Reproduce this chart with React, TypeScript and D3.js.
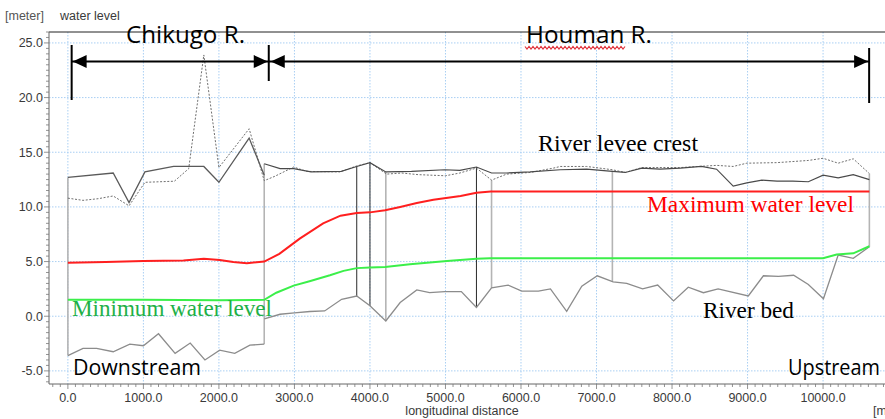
import React from 'react';
import * as d3 from 'd3';

const W = 885;
const H = 419;

// Longitudinal distance [m], elevation [m]
const leveeSolidChikugo: [number, number][] = [
  [0, 12.7], [600, 13.1], [810, 10.4], [1020, 13.2], [1400, 13.7], [1800, 13.7],
  [2000, 12.25], [2400, 16.3], [2600, 12.9],
];
const leveeSolidHouman: [number, number][] = [
  [2600, 13.95], [2810, 13.5], [2990, 13.5], [3220, 13.2], [3620, 13.25], [3825, 13.7],
  [4000, 14.05], [4210, 13.2], [4550, 13.25], [4990, 13.4], [5190, 13.35], [5410, 13.65],
  [5610, 13.1], [5810, 13.1], [6120, 13.2], [6520, 13.4], [6870, 13.45], [7210, 13.25],
  [7380, 13.15], [7600, 13.55], [7840, 13.45], [8110, 13.55], [8390, 13.7], [8590, 13.45],
  [8810, 11.9], [8990, 12.2], [9190, 12.45], [9390, 12.35], [9600, 12.35], [9805, 12.3],
  [10000, 12.9], [10200, 12.65], [10400, 12.95], [10613, 12.5],
];
const leveeDotted: [number, number][] = [
  [0, 10.8], [200, 10.6], [400, 10.75], [600, 11.0], [810, 10.1], [1020, 12.25],
  [1410, 12.35], [1600, 13.5], [1800, 23.9], [2000, 13.6], [2400, 17.15], [2600, 12.4],
  [2740, 12.8], [2990, 13.65], [3160, 13.25], [3600, 13.2], [3825, 13.75], [4000, 14.05],
  [4220, 13.0], [4420, 13.1], [4640, 12.95], [5000, 12.85], [5190, 13.1], [5410, 13.55],
  [5610, 12.45], [5810, 13.0], [6120, 13.15], [6430, 13.55], [6520, 13.7], [6870, 13.7],
  [7210, 13.4], [7380, 13.15], [7600, 13.6], [8110, 13.6], [8590, 13.8], [8810, 13.7],
  [8990, 14.0], [9390, 14.05], [9805, 14.25], [10000, 14.45], [10200, 14.0], [10400, 14.4],
  [10613, 13.05],
];
const maxWaterLevel: [number, number][] = [
  [0, 4.9], [500, 4.95], [1000, 5.05], [1530, 5.1], [1800, 5.25], [2010, 5.15],
  [2190, 4.95], [2370, 4.85], [2600, 5.0], [2800, 5.7], [3070, 7.1], [3380, 8.5],
  [3610, 9.2], [3825, 9.45], [4000, 9.5], [4200, 9.7], [4400, 10.0], [4620, 10.35],
  [4840, 10.65], [5200, 11.0], [5410, 11.3], [5600, 11.42], [10613, 11.42],
];
const minWaterLevel: [number, number][] = [
  [0, 1.5], [1000, 1.5], [2000, 1.45], [2600, 1.5], [2760, 2.15], [2990, 2.8],
  [3200, 3.2], [3470, 3.75], [3650, 4.15], [3825, 4.4], [4000, 4.45], [4200, 4.5],
  [4530, 4.75], [5020, 5.05], [5410, 5.25], [5590, 5.3], [10000, 5.3], [10180, 5.65],
  [10400, 5.75], [10613, 6.4],
];
const bedChikugo: [number, number][] = [
  [0, -3.6], [200, -2.95], [380, -2.95], [600, -3.25], [820, -2.55], [1000, -2.7],
  [1200, -1.6], [1420, -3.4], [1620, -2.45], [1815, -4.0], [2010, -3.1], [2210, -3.4],
  [2410, -2.65], [2600, -2.55],
];
const bedHouman: [number, number][] = [
  [2600, -0.25], [2810, 0.18], [3000, 0.3], [3205, 0.43], [3400, 0.48], [3625, 1.55],
  [3825, 1.85], [4000, 0.95], [4210, -0.43], [4400, 1.25], [4620, 2.4], [4790, 2.15],
  [4990, 2.25], [5210, 2.25], [5410, 0.8], [5610, 2.6], [5830, 2.85], [6010, 2.3],
  [6230, 2.3], [6390, 2.5], [6605, 0.45], [6805, 2.75], [7010, 3.7], [7220, 3.15],
  [7400, 3.0], [7610, 2.5], [7810, 2.85], [8020, 1.4], [8215, 2.65], [8415, 2.15],
  [8610, 2.5], [9010, 1.85], [9210, 3.7], [9410, 3.65], [9610, 3.75], [9805, 2.9],
  [10005, 1.6], [10200, 5.6], [10400, 5.3], [10613, 6.35],
];

// Cross-section (structure) lines
const sectionDistance = [0, 2600, 3825, 4000, 4210, 5410, 5610, 7210, 10613];
const sectionTop = [12.7, 13.95, 13.7, 14.05, 13.2, 13.65, 12.45, 13.3, 13.05];
const sectionBottom = [-3.6, -2.55, 1.85, 0.95, -0.43, 0.8, 2.6, 3.15, 6.35];
const sectionDark = [false, false, true, true, false, true, false, false, false];

// Reach annotation
const reachStart = 50;
const reachBoundary = 2660;
const reachEnd = 10610;

const xTickValues = [0, 1000, 2000, 3000, 4000, 5000, 6000, 7000, 8000, 9000, 10000];
const yTickValues = [-5, 0, 5, 10, 15, 20, 25];

export default function App() {
  const x = d3.scaleLinear().domain([-250, 10820]).range([49, 885]);
  const y = d3.scaleLinear().domain([-6.2, 26]).range([384, 32]);
  const line = d3.line<[number, number]>().x(d => x(d[0])).y(d => y(d[1]));
  const xMinor = d3.range(-200, 10801, 100);
  const yMinor = d3.range(-6, 26.01, 0.5);

  const sans = 'Liberation Sans, Arial, sans-serif';
  const serif = 'Liberation Serif, Times New Roman, serif';
  const cal = 'Open Sans, Noto Sans, sans-serif';

  const arrowY = y(23.3);
  const aS = x(reachStart);
  const aB = x(reachBoundary);
  const aE = x(reachEnd);
  const head = (tip: number, dir: number) =>
    `M${tip},${arrowY} L${tip + dir * 14},${arrowY - 6.5} L${tip + dir * 14},${arrowY + 6.5} Z`;

  // red spell-check squiggle under "Houman"
  const wavePts: string[] = [];
  for (let i = 0, px = 525; px <= 625; i++, px += 2) {
    wavePts.push(`${px},${i % 2 === 0 ? 46.5 : 49}`);
  }

  return (
    <svg width={W} height={H} style={{ position: 'absolute', left: 0, top: 0, background: '#fff' }}>
      <defs>
        <clipPath id="plot">
          <rect x={49} y={32} width={836} height={352} />
        </clipPath>
      </defs>
      <rect width={W} height={H} fill="#fff" />
      {/* grid */}
      <g stroke="#a9cff3" strokeWidth={1} strokeDasharray="1.5,1.5">
        {xTickValues.map(v => (
          <line key={'gx' + v} x1={x(v)} x2={x(v)} y1={32} y2={384} />
        ))}
        {yTickValues.map(v => (
          <line key={'gy' + v} x1={49} x2={885} y1={y(v)} y2={y(v)} />
        ))}
      </g>
      {/* axes */}
      <line x1={49} x2={885} y1={32} y2={32} stroke="#222" strokeWidth={1} />
      <line x1={49} x2={49} y1={32} y2={384} stroke="#666" strokeWidth={1} />
      <line x1={49} x2={885} y1={384} y2={384} stroke="#666" strokeWidth={1} />
      <g stroke="#777" strokeWidth={0.8}>
        {xMinor.map(v => (
          <line key={'xm' + v} x1={x(v)} x2={x(v)} y1={384} y2={v % 1000 === 0 ? 389 : 387} />
        ))}
        {yMinor.map(v => (
          <line key={'ym' + v} x1={49} x2={v % 5 === 0 ? 44 : 46} y1={y(v)} y2={y(v)} />
        ))}
      </g>
      <g fontFamily={sans} fontSize={12.5} fill="#3a3a3a">
        {yTickValues.map(v => (
          <text key={'yl' + v} x={43} y={y(v) + 4.5} textAnchor="end">{v.toFixed(1)}</text>
        ))}
        {xTickValues.map(v => (
          <text key={'xl' + v} x={x(v)} y={402} textAnchor="middle">{v.toFixed(1)}</text>
        ))}
        <text x={5} y={20} fill="#555">[meter]</text>
        <text x={60} y={20}>water level</text>
        <text x={462} y={415} textAnchor="middle">longitudinal distance</text>
        <text x={873} y={415}>[m]</text>
      </g>
      {/* data */}
      <g clipPath="url(#plot)" fill="none">
        {sectionDistance.map((d, i) => (
          <line
            key={'sec' + i}
            x1={x(d)} x2={x(d)} y1={y(sectionTop[i])} y2={y(sectionBottom[i])}
            stroke={sectionDark[i] ? '#2a2a2a' : '#b4b4b4'}
            strokeWidth={sectionDark[i] ? 1 : 1.6}
          />
        ))}
        <path d={line(bedChikugo) || ''} stroke="#8c8c8c" strokeWidth={1.3} />
        <path d={line(bedHouman) || ''} stroke="#8c8c8c" strokeWidth={1.3} />
        <path d={line(leveeDotted) || ''} stroke="#707070" strokeWidth={1} strokeDasharray="2,1.6" />
        <path d={line(leveeSolidChikugo) || ''} stroke="#5a5a5a" strokeWidth={1.3} />
        <path d={line(leveeSolidHouman) || ''} stroke="#4a4a4a" strokeWidth={1.2} />
        <path d={line(minWaterLevel) || ''} stroke="#3bef4a" strokeWidth={2} />
        <path d={line(maxWaterLevel) || ''} stroke="#ff1f1f" strokeWidth={2} />
      </g>
      {/* reach arrows */}
      <g stroke="#000" strokeWidth={2}>
        <line x1={aS} x2={aS} y1={45} y2={100} />
        <line x1={aB} x2={aB} y1={45} y2={81} />
        <line x1={aE} x2={aE} y1={48} y2={103} />
        <line x1={aS} x2={aB} y1={arrowY} y2={arrowY} />
        <line x1={aB} x2={aE} y1={arrowY} y2={arrowY} />
      </g>
      <g fill="#000">
        <path d={head(aS + 1, 1)} />
        <path d={head(aB - 1, -1)} />
        <path d={head(aB + 2, 1)} />
        <path d={head(aE - 1, -1)} />
      </g>
      {/* labels */}
      <text x={126} y={43} fontFamily={cal} fontSize={24} textLength={119} lengthAdjust="spacingAndGlyphs" fill="#000">Chikugo R.</text>
      <text x={526} y={43} fontFamily={cal} fontSize={24} textLength={126} lengthAdjust="spacingAndGlyphs" fill="#000">Houman R.</text>
      <polyline points={wavePts.join(' ')} fill="none" stroke="#e0303a" strokeWidth={1.2} />
      <text x={538} y={151} fontFamily={serif} fontSize={23} textLength={160} lengthAdjust="spacingAndGlyphs" fill="#000">River levee crest</text>
      <text x={647} y={212} fontFamily={serif} fontSize={23} textLength={207} lengthAdjust="spacingAndGlyphs" fill="#ff0000">Maximum water level</text>
      <text x={72} y={316} fontFamily={serif} fontSize={23} textLength={200} lengthAdjust="spacingAndGlyphs" fill="#1eb048">Minimum water level</text>
      <text x={703} y={318} fontFamily={serif} fontSize={23} textLength={91} lengthAdjust="spacingAndGlyphs" fill="#000">River bed</text>
      <text x={73} y={375} fontFamily={cal} fontSize={22} textLength={128} lengthAdjust="spacingAndGlyphs" fill="#000">Downstream</text>
      <text x={788} y={375} fontFamily={cal} fontSize={22} textLength={92} lengthAdjust="spacingAndGlyphs" fill="#000">Upstream</text>
    </svg>
  );
}
